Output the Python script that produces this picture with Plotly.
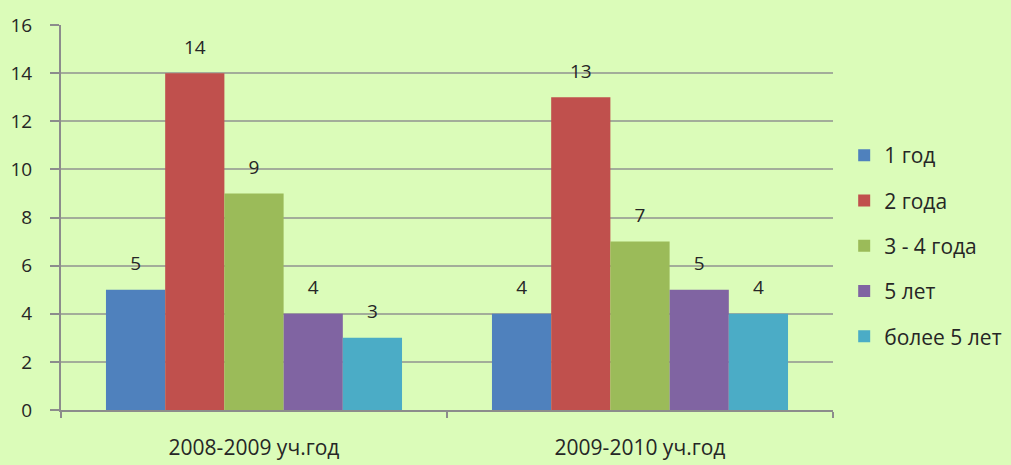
import plotly.graph_objects as go

categories = ["2008-2009 уч.год", "2009-2010 уч.год"]
series_names = ["1 год", "2 года", "3 - 4 года", "5 лет", "более 5 лет"]
values_1 = [5, 4]
values_2 = [14, 13]
values_3 = [9, 7]
values_4 = [4, 5]
values_5 = [3, 4]
series_values = [values_1, values_2, values_3, values_4, values_5]
colors = ["#4F81BD", "#C0504D", "#9BBB59", "#8064A2", "#4BACC6"]

FONT = "Open Sans"
TXT = "#262626"
BG = "#DBFCB9"

fig = go.Figure()
for i, (name, vals, col) in enumerate(zip(series_names, series_values, colors)):
    fig.add_trace(go.Bar(
        x=categories, y=vals, name=name, marker=dict(color=col, line=dict(width=0)),
        offsetgroup=str(i), legendgroup=str(i), hoverinfo="skip",
    ))
for i, vals in enumerate(series_values):
    fig.add_trace(go.Scatter(
        x=categories, y=vals, mode="markers+text", text=[str(v) for v in vals],
        textposition="top center", textfont=dict(family=FONT, size=19, color=TXT),
        marker=dict(size=22, opacity=0), offsetgroup=str(i), showlegend=False,
        hoverinfo="skip", cliponaxis=False,
    ))

fig.update_layout(
    width=1011, height=465,
    paper_bgcolor=BG, plot_bgcolor=BG,
    margin=dict(l=61, r=178, t=25, b=55),
    barmode="group", bargap=0.233, bargroupgap=0,
    scattermode="group", scattergap=0.233,
    font=dict(family=FONT, size=19, color=TXT),
    showlegend=True,
    legend=dict(xref="container", yref="container", x=0.835, y=0.471,
                xanchor="left", yanchor="middle", traceorder="grouped",
                tracegroupgap=15, bgcolor="rgba(0,0,0,0)",
                font=dict(family=FONT, size=21, color=TXT), itemclick=False),
    xaxis=dict(showgrid=False, showline=True, linecolor="#8C8C8C", linewidth=2,
               ticks="outside", tickson="boundaries", ticklen=6, tickcolor="#8C8C8C",
               tickwidth=2, tickfont=dict(family=FONT, size=21, color=TXT),
               ticklabelstandoff=18, automargin=False),
    yaxis=dict(range=[0, 16], dtick=2, showgrid=True, gridcolor="#A3AD9A", gridwidth=2,
               showline=True, linecolor="#8C8C8C", linewidth=2, ticks="outside",
               ticklen=9, tickcolor="#8C8C8C", tickwidth=2, zeroline=False,
               tickfont=dict(family=FONT, size=19, color=TXT), ticklabelstandoff=14,
               automargin=False),
)

fig.write_html("out.html", config={"displayModeBar": False},
               post_script="document.body.style.margin='0';")
